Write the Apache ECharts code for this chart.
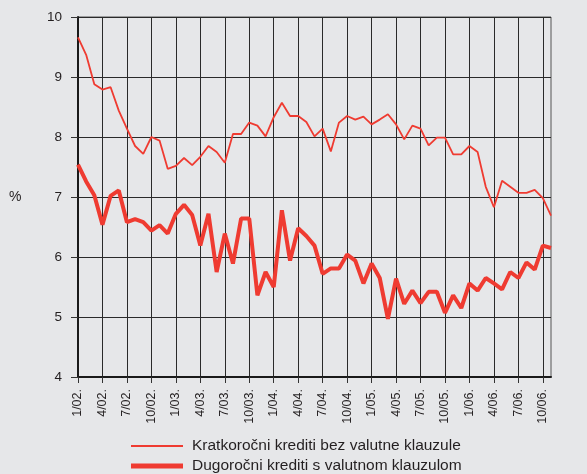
<!DOCTYPE html>
<html>
<head>
<meta charset="utf-8">
<script src="https://cdn.jsdelivr.net/npm/echarts@6/dist/echarts.min.js"></script>
<style>
  html, body { margin: 0; padding: 0; background: #e6e7e9; }
  #chart { width: 587px; height: 474px; }
</style>
</head>
<body>
<div id="chart"></div>
<script>
var months = [
    '1/02.','2/02.','3/02.','4/02.','5/02.','6/02.','7/02.','8/02.','9/02.','10/02.','11/02.','12/02.',
    '1/03.','2/03.','3/03.','4/03.','5/03.','6/03.','7/03.','8/03.','9/03.','10/03.','11/03.','12/03.',
    '1/04.','2/04.','3/04.','4/04.','5/04.','6/04.','7/04.','8/04.','9/04.','10/04.','11/04.','12/04.',
    '1/05.','2/05.','3/05.','4/05.','5/05.','6/05.','7/05.','8/05.','9/05.','10/05.','11/05.','12/05.',
    '1/06.','2/06.','3/06.','4/06.','5/06.','6/06.','7/06.','8/06.','9/06.','10/06.','11/06.'
];

var kratkorocni = [
    9.66, 9.37, 8.88, 8.79, 8.83, 8.44, 8.14, 7.85, 7.72, 8.00, 7.94, 7.47,
    7.52, 7.65, 7.53, 7.67, 7.85, 7.75, 7.57, 8.05, 8.05, 8.24, 8.19, 8.01,
    8.33, 8.57, 8.35, 8.35, 8.25, 8.01, 8.14, 7.76, 8.24, 8.35, 8.29, 8.34,
    8.21, 8.29, 8.38, 8.21, 7.96, 8.19, 8.14, 7.86, 7.99, 7.99, 7.71, 7.71,
    7.85, 7.75, 7.17, 6.83, 7.27, 7.17, 7.07, 7.07, 7.12, 6.98, 6.69
];

var dugorocni = [
    7.54, 7.26, 7.03, 6.54, 7.02, 7.11, 6.58, 6.63, 6.58, 6.44, 6.53, 6.39,
    6.72, 6.87, 6.70, 6.19, 6.72, 5.75, 6.39, 5.89, 6.64, 6.64, 5.36, 5.75,
    5.50, 6.78, 5.94, 6.48, 6.35, 6.19, 5.72, 5.81, 5.81, 6.04, 5.94, 5.56,
    5.89, 5.65, 4.97, 5.64, 5.22, 5.44, 5.23, 5.42, 5.42, 5.07, 5.36, 5.15,
    5.56, 5.44, 5.65, 5.56, 5.46, 5.75, 5.65, 5.91, 5.79, 6.19, 6.15
];

var seriesNames = ['Kratkoročni krediti bez valutne klauzule', 'Dugoročni krediti s valutnom klauzulom'];
var red = '#ef3b31';
var ink = '#231f20';
var font = 'Liberation Sans, Arial, sans-serif';

var chart = echarts.init(document.getElementById('chart'));

// one legend per line so each swatch gets its own thickness
function legendFor(name, top, thick) {
    return {
        left: 131,
        top: top,
        padding: 0,
        icon: 'rect',
        itemWidth: 52,
        itemHeight: thick,
        textStyle: { fontSize: 15.5, fontFamily: font, color: ink, padding: [0, 0, 0, 4] },
        data: [{ name: name, itemStyle: { color: red } }]
    };
}

var option = {
    backgroundColor: '#e6e7e9',
    animation: false,
    grid: {
        left: 78,
        right: 36,
        top: 17,
        bottom: 97,
        show: true,
        borderColor: '#555',
        borderWidth: 1,
        backgroundColor: 'transparent'
    },
    graphic: [{
        type: 'text',
        left: 9,
        top: 190,
        style: { text: '%', fontSize: 14, fontFamily: font, fill: ink }
    }],
    legend: [
        legendFor(seriesNames[0], 438, 2),
        legendFor(seriesNames[1], 458, 5)
    ],
    xAxis: {
        type: 'category',
        data: months,
        boundaryGap: false,
        axisLine: { lineStyle: { color: '#1a1a1a', width: 2 } },
        axisTick: { interval: 2, length: 6, lineStyle: { color: '#333' } },
        axisLabel: {
            interval: 2,
            rotate: 90,
            margin: 12,
            fontSize: 12.5,
            fontFamily: font,
            color: ink
        },
        splitLine: { show: true, interval: 2, lineStyle: { color: '#2a2a2a', width: 1 } }
    },
    yAxis: {
        type: 'value',
        min: 4,
        max: 10,
        interval: 1,
        axisLine: { show: true, lineStyle: { color: '#1a1a1a', width: 2 } },
        axisTick: { show: true, length: 7, lineStyle: { color: '#333' } },
        axisLabel: { margin: 16, fontSize: 13.5, fontFamily: font, color: ink },
        splitLine: { lineStyle: { color: '#2a2a2a', width: 1 } }
    },
    series: [{
        name: seriesNames[0],
        type: 'line',
        data: kratkorocni,
        symbol: 'none',
        lineStyle: { color: red, width: 1.8 },
        itemStyle: { color: red }
    }, {
        name: seriesNames[1],
        type: 'line',
        data: dugorocni,
        symbol: 'none',
        lineStyle: { color: red, width: 4 },
        itemStyle: { color: red }
    }]
};

chart.setOption(option);
</script>
</body>
</html>
